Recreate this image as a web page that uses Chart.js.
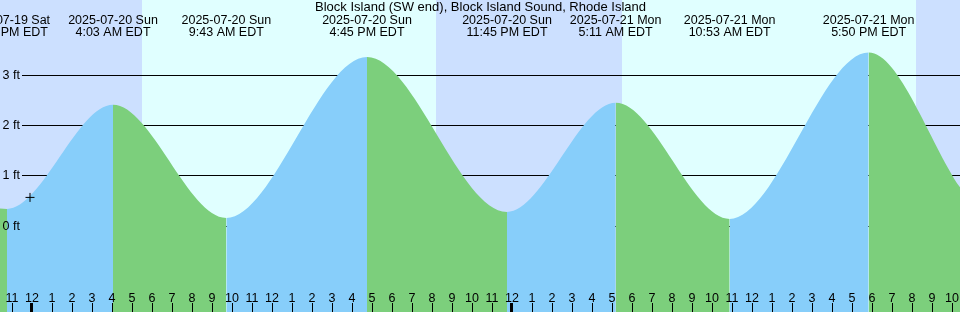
<!DOCTYPE html>
<html>
<head>
<meta charset="utf-8">
<script src="https://cdn.jsdelivr.net/npm/chart.js@4/dist/chart.umd.min.js"></script>
<style>
  html, body { margin: 0; padding: 0; background: #fff; }
  canvas { display: block; }
</style>
</head>
<body>
<canvas id="tide" width="960" height="312"></canvas>
<script>
// hours are counted from 2025-07-20 00:00 EDT
const titleText = 'Block Island (SW end), Block Island Sound, Rhode Island';

// tide curve: window edges plus the highs and lows
const tideHours = [-1.6, -1.25, 4.05, 9.717, 16.75, 23.75, 29.183, 34.883, 41.833, 46.4];
const tideFeet  = [0.34, 0.33, 2.40, 0.15, 3.35, 0.27, 2.44, 0.13, 3.44, 0.76];

// labelled events along the top
const eventHours = [-1.25, 4.05, 9.717, 16.75, 23.75, 29.183, 34.883, 41.833];
const eventDates = ['2025-07-19 Sat', '2025-07-20 Sun', '2025-07-20 Sun', '2025-07-20 Sun',
                    '2025-07-20 Sun', '2025-07-21 Mon', '2025-07-21 Mon', '2025-07-21 Mon'];
const eventTimes = ['10:45 PM EDT', '4:03 AM EDT', '9:43 AM EDT', '4:45 PM EDT',
                    '11:45 PM EDT', '5:11 AM EDT', '10:53 AM EDT', '5:50 PM EDT'];

// daylight spans (sunrise, sunset)
const dayStart = [5.5, 29.48];
const dayEnd   = [20.2, 44.185];

// current-time marker
const nowHour = -0.1;
const nowFeet = 0.56;

// axes
const feetTicks  = [0, 1, 2, 3];
const feetLabels = ['0 ft', '1 ft', '2 ft', '3 ft'];
const hourTicks  = [-1, 0, 1, 2, 3, 4, 5, 6, 7, 8, 9, 10, 11, 12, 13, 14, 15, 16, 17, 18, 19, 20, 21, 22, 23,
                    24, 25, 26, 27, 28, 29, 30, 31, 32, 33, 34, 35, 36, 37, 38, 39, 40, 41, 42, 43, 44, 45, 46];
const hourLabels = ['11', '12', '1', '2', '3', '4', '5', '6', '7', '8', '9', '10', '11', '12', '1', '2', '3', '4',
                    '5', '6', '7', '8', '9', '10', '11', '12', '1', '2', '3', '4', '5', '6', '7', '8', '9', '10',
                    '11', '12', '1', '2', '3', '4', '5', '6', '7', '8', '9', '10'];
const midnightHours = [0, 24];

const NIGHT = '#cce0ff';
const DAY = '#e0ffff';
const RISE = '#87cefa';
const FALL = '#7ccf7c';
const FONT = '12.5px "Liberation Sans", Arial, sans-serif';
const TITLE_FONT = '13px "Liberation Sans", Arial, sans-serif';

const tidePlugin = {
    id: 'tidePlugin',
    beforeDraw(chart) {
        const { ctx, chartArea: a, scales: { x } } = chart;
        ctx.save();
        ctx.fillStyle = NIGHT;
        ctx.fillRect(a.left, a.top, a.right - a.left, a.bottom - a.top);
        ctx.fillStyle = DAY;
        dayStart.forEach((s, i) => {
            const x0 = Math.round(x.getPixelForValue(s));
            const x1 = Math.round(x.getPixelForValue(dayEnd[i]));
            ctx.fillRect(x0, a.top, x1 - x0, a.bottom - a.top);
        });
        ctx.restore();
    },
    beforeDatasetsDraw(chart) {
        const { ctx, chartArea: a, scales: { y } } = chart;
        ctx.save();
        ctx.strokeStyle = '#000';
        ctx.lineWidth = 1;
        feetTicks.forEach(f => {
            const py = Math.round(y.getPixelForValue(f)) + 0.5;
            ctx.beginPath();
            ctx.moveTo(22, py);
            ctx.lineTo(a.right, py);
            ctx.stroke();
        });
        ctx.restore();
    },
    afterDatasetsDraw(chart) {
        const { ctx, chartArea: a, scales: { x, y } } = chart;
        ctx.save();
        ctx.fillStyle = '#000';
        ctx.font = FONT;

        // y labels
        ctx.textAlign = 'left';
        ctx.textBaseline = 'middle';
        feetTicks.forEach((f, i) => {
            ctx.fillText(feetLabels[i], 2.5, y.getPixelForValue(f) + 0.5);
        });

        // hour labels and ticks
        ctx.textAlign = 'center';
        ctx.textBaseline = 'alphabetic';
        hourTicks.forEach((h, i) => {
            const px = x.getPixelForValue(h);
            ctx.fillText(hourLabels[i], px, 302);
            const thick = midnightHours.includes(h);
            ctx.fillRect(Math.round(px) - (thick ? 2 : 0), 303, thick ? 3 : 1, a.bottom - 303);
        });

        // events
        eventHours.forEach((h, i) => {
            const px = x.getPixelForValue(h);
            ctx.fillText(eventDates[i], px, 24);
            ctx.fillText(eventTimes[i], px, 36);
        });

        // title
        ctx.font = TITLE_FONT;
        ctx.fillText(titleText, (a.left + a.right) / 2 + 0.5, 11);
        ctx.restore();
    }
};

new Chart(document.getElementById('tide'), {
    type: 'line',
    data: {
        datasets: [{
            label: 'Tide',
            data: tideHours.map((h, i) => ({ x: h, y: tideFeet[i] })),
            order: 1,
            borderWidth: 0,
            borderColor: 'rgba(0,0,0,0)',
            pointRadius: 0,
            cubicInterpolationMode: 'monotone',
            fill: 'start',
            backgroundColor: RISE,
            segment: {
                backgroundColor: c => c.p1.parsed.y > c.p0.parsed.y ? RISE : FALL,
            },
        }, {
            type: 'scatter',
            label: 'Now',
            data: [{ x: nowHour, y: nowFeet }],
            order: 0,
            pointStyle: 'cross',
            pointRadius: 4.5,
            borderColor: '#000',
            borderWidth: 1,
        }],
    },
    options: {
        responsive: false,
        animation: false,
        devicePixelRatio: 1,
        layout: { padding: 0, autoPadding: false },
        plugins: { legend: { display: false }, tooltip: { enabled: false }, title: { display: false } },
        scales: {
            x: { type: 'linear', min: -1.6, max: 46.4, display: false },
            y: { type: 'linear', min: -1.718, max: 4.485, display: false },
        },
    },
    plugins: [tidePlugin],
});
</script>
</body>
</html>
